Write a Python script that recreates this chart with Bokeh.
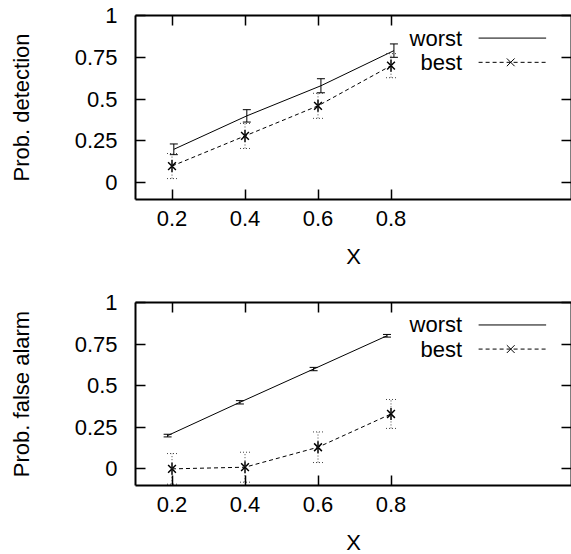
import numpy as np
from bokeh.plotting import figure
from bokeh.models import (LinearAxis, FixedTicker, Range1d, Whisker, TeeHead,
                          ColumnDataSource, CustomJSTickFormatter)
from bokeh.layouts import column
from bokeh.core.properties import value
from bokeh.embed import file_html
from bokeh.resources import INLINE

# ---------------- data ----------------
x_vals = [0.2, 0.4, 0.6, 0.8]
x_tick_labels = ["0.2", "0.4", "0.6", "0.8"]
y_ticks = [0, 0.25, 0.5, 0.75, 1]
y_tick_labels = ["0", "0.25", "0.5", "0.75", "1"]

# Prob. detection
det_worst_x = [0.205, 0.405, 0.608, 0.808]
det_worst = [0.20, 0.40, 0.58, 0.79]
det_worst_err = [0.032, 0.037, 0.042, 0.04]
det_best_x = [0.2, 0.4, 0.6, 0.8]
det_best = [0.10, 0.28, 0.46, 0.70]
det_best_err = [0.075, 0.075, 0.075, 0.072]

# Prob. false alarm
fa_worst_x = [0.188, 0.386, 0.588, 0.789]
fa_worst = [0.20, 0.40, 0.60, 0.80]
fa_worst_err = [0.008, 0.01, 0.01, 0.008]
fa_best_x = [0.2, 0.4, 0.6, 0.8]
fa_best = [0.0, 0.01, 0.13, 0.33]
fa_best_err = [0.092, 0.09, 0.092, 0.087]

series_names = ["worst", "best"]

# ---------------- style / layout ----------------
FONT = "Liberation Sans"
FS = "22px"
X_RANGE = (0.1, 1.2945)
Y_RANGE = (-0.1, 1.0)
LEG_TEXT_X = 0.995
LEG_LINE = (1.04, 1.225)
LEG_MARK_X = 1.128
LEG_Y = (0.865, 0.72)
BEST_DASH = "4 3"
ERR_DASH = "1 2"


def make_plot(ylabel, wx, wy, we, bx, by, be, top_border, bottom_border, fheight):
    p = figure(output_backend="svg", toolbar_location=None,
               frame_width=436, frame_height=fheight,
               x_range=Range1d(*X_RANGE), y_range=Range1d(*Y_RANGE),
               min_border_left=135, min_border_right=0,
               min_border_top=top_border, min_border_bottom=bottom_border,
               x_axis_type=None, y_axis_type=None)
    p.grid.visible = False
    p.outline_line_color = None
    p.background_fill_color = "white"
    p.border_fill_color = "white"

    xt = FixedTicker(ticks=x_vals)
    yt = FixedTicker(ticks=y_ticks)
    overrides = {t: l for t, l in zip(y_ticks, y_tick_labels)}
    xover = {t: l for t, l in zip(x_vals, x_tick_labels)}

    def style(ax, labels=True):
        ax.axis_line_width = 2
        ax.axis_line_color = "black"
        ax.major_tick_in = 10
        ax.major_tick_out = 0
        ax.major_tick_line_width = 1.5
        ax.major_tick_line_color = "black"
        ax.minor_tick_line_color = None
        ax.major_label_text_font = FONT
        ax.major_label_text_color = "black"
        ax.axis_label_text_color = "black"
        if labels:
            ax.major_label_text_font_size = FS
        else:
            ax.formatter = CustomJSTickFormatter(code="return ''")
            ax.major_label_text_font_size = "1px"
            ax.major_label_standoff = 0

    xb = LinearAxis(ticker=xt, axis_label="X")
    xb.major_label_overrides = xover
    style(xb)
    xb.major_label_standoff = 11
    xb.axis_label_text_font = FONT
    xb.axis_label_text_font_size = FS
    xb.axis_label_text_font_style = "normal"
    xb.axis_label_standoff = 15
    p.add_layout(xb, "below")

    yl = LinearAxis(ticker=yt, axis_label=ylabel)
    yl.major_label_overrides = overrides
    style(yl)
    yl.major_label_standoff = 18
    yl.axis_label_text_font = FONT
    yl.axis_label_text_font_size = FS
    yl.axis_label_text_font_style = "normal"
    yl.axis_label_standoff = 38
    p.add_layout(yl, "left")

    xa = LinearAxis(ticker=xt)
    style(xa, labels=False)
    p.add_layout(xa, "above")

    yr = LinearAxis(ticker=yt)
    style(yr, labels=False)
    p.add_layout(yr, "right")

    # worst series
    wsrc = ColumnDataSource(dict(x=wx, y=wy,
                                 lo=np.array(wy) - np.array(we),
                                 hi=np.array(wy) + np.array(we)))
    p.line("x", "y", source=wsrc, line_color="black", line_width=1)
    p.add_layout(Whisker(source=wsrc, base="x", upper="hi", lower="lo",
                         dimension="height", line_color="black", line_width=1,
                         level="glyph",
                         upper_head=TeeHead(size=8, line_color="black", line_width=1),
                         lower_head=TeeHead(size=8, line_color="black", line_width=1)))

    # best series
    bsrc = ColumnDataSource(dict(x=bx, y=by,
                                 lo=np.array(by) - np.array(be),
                                 hi=np.array(by) + np.array(be)))
    p.line("x", "y", source=bsrc, line_color="black", line_width=1,
           line_dash=BEST_DASH)
    p.add_layout(Whisker(source=bsrc, base="x", upper="hi", lower="lo",
                         dimension="height", line_color="#444444", line_width=1,
                         line_dash=ERR_DASH, level="glyph",
                         upper_head=TeeHead(size=10, line_color="#444444",
                                            line_width=1, line_dash=ERR_DASH),
                         lower_head=TeeHead(size=10, line_color="#444444",
                                            line_width=1, line_dash=ERR_DASH)))
    p.scatter("x", "y", source=bsrc, marker="x", size=11,
              line_color="black", line_width=1.5)
    p.scatter("x", "y", source=bsrc, marker="dash", angle=np.pi / 2, size=12,
              line_color="black", line_width=1.5)

    # legend (gnuplot style: text right-aligned, sample on the right)
    p.text(x=[LEG_TEXT_X, LEG_TEXT_X], y=list(LEG_Y), text=series_names,
           text_align="right", text_baseline="middle",
           text_font=value(FONT), text_font_size=FS, text_color="black")
    p.line(x=list(LEG_LINE), y=[LEG_Y[0], LEG_Y[0]], line_color="black",
           line_width=1)
    p.line(x=list(LEG_LINE), y=[LEG_Y[1], LEG_Y[1]], line_color="black",
           line_width=1, line_dash=BEST_DASH)
    p.scatter(x=[LEG_MARK_X], y=[LEG_Y[1]], marker="x", size=11,
              line_color="black", line_width=1)
    return p


p1 = make_plot("Prob. detection", det_worst_x, det_worst, det_worst_err,
               det_best_x, det_best, det_best_err, 15, 81, 184)
p2 = make_plot("Prob. false alarm", fa_worst_x, fa_worst, fa_worst_err,
               fa_best_x, fa_best, fa_best_err, 22, 69, 183)

layout = column(p1, p2, spacing=0)
open("out.html", "w").write(file_html(layout, INLINE))
